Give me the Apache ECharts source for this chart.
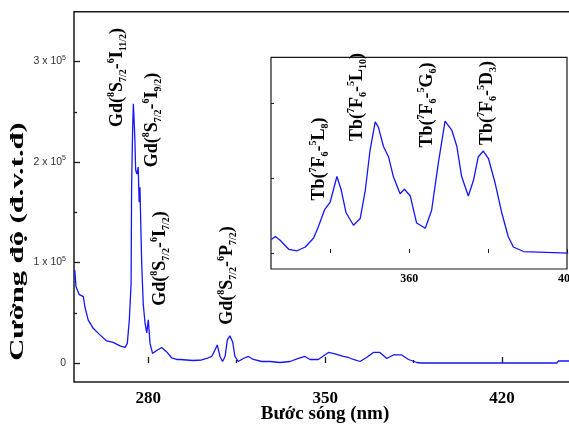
<!DOCTYPE html>
<html>
<head>
<meta charset="utf-8">
<script src="https://cdn.jsdelivr.net/npm/echarts@6/dist/echarts.min.js"></script>
<style>html,body{margin:0;padding:0;background:#fff;}#c{width:569px;height:432px;}</style>
</head>
<body>
<div id="c"></div>
<script>
// ---- data (main spectrum, intensity in units of 10^5) ----
const mainWavelength = [250.9,251.4,252.7,254.3,254.9,256.2,258.2,260.9,263.5,266.1,268.8,270.8,271.7,272.5,273.2,273.4,273.8,274.1,274.5,274.7,275.0,275.5,276.0,276.4,276.7,277.0,277.4,278.0,278.7,279.4,280.0,280.7,281.7,283.0,285.3,287.3,289.3,291.2,292.5,297.8,301.1,303.1,305.1,306.4,307.3,308.4,309.4,310.4,311.3,312.3,313.4,314.3,315.6,317.6,319.6,321.6,324.9,328.2,332.1,336.1,339.4,342.0,344.0,347.3,349.3,351.3,353.9,357.2,359.2,361.2,363.8,366.4,369.1,371.7,374.4,377.0,380.3,383.0,386.3,388.0,441.7,442.4,448.0];
const mainIntensity = [0.925,0.76,0.68,0.66,0.56,0.43,0.345,0.28,0.22,0.205,0.17,0.155,0.195,0.43,0.79,1.75,2.32,2.58,2.35,2.22,1.92,1.88,1.95,1.60,1.75,1.42,0.99,0.59,0.40,0.30,0.43,0.195,0.095,0.12,0.155,0.11,0.05,0.035,0.035,0.025,0.03,0.045,0.065,0.13,0.18,0.065,0.015,0.065,0.23,0.27,0.21,0.065,0.015,0.045,0.065,0.035,0.015,0.015,0.005,0.015,0.045,0.065,0.035,0.035,0.07,0.105,0.09,0.065,0.055,0.035,0.015,0.055,0.105,0.105,0.045,0.08,0.08,0.035,0.005,0.0,0.0,0.02,0.02];
// ---- data (inset, arbitrary units) ----
const insetWavelength = [325.1,326.1,327.3,329.5,331.6,333.7,335.8,337.0,338.6,340.0,341.7,342.8,344.0,345.9,347.6,348.9,350.1,351.4,352.2,353.5,354.8,356.0,357.7,358.8,360.3,361.9,364.1,365.7,367.4,369.1,370.8,372.1,373.3,375.0,376.3,377.5,378.8,380.1,381.8,383.5,385.1,386.4,389.0,389.5,400.3];
const insetIntensity = [0.18,0.22,0.17,0.05,0.03,0.08,0.20,0.35,0.58,0.68,1.02,0.84,0.54,0.37,0.46,0.84,1.37,1.75,1.68,1.42,1.28,1.02,0.79,0.85,0.76,0.40,0.33,0.57,1.20,1.76,1.64,1.42,1.02,0.76,0.97,1.28,1.36,1.26,0.93,0.53,0.22,0.08,0.02,0.0,0.0];
// ---- ticks ----
const mainXTicks = [280, 350, 420];
const mainXMinorTicks = [315, 385];
const mainYTicks = [0, 1, 2, 3];
const mainYMinorTicks = [0.5, 1.5, 2.5];
const insetXTicks = [340, 360, 380, 400];
const insetXLabels = [360, 400];
const insetYTicks = [0, 1, 2];
// ---- texts ----
const xTitle = 'Bước sóng (nm)';
const yTitle = 'Cường độ (đ.v.t.đ)';
const gdLabels = [
  ['Gd','8','S','7/2','6','I','11/2'],
  ['Gd','8','S','7/2','6','I','9/2'],
  ['Gd','8','S','7/2','6','I','7/2'],
  ['Gd','8','S','7/2','6','P','7/2']
];
const tbLabels = [
  ['Tb','7','F','6','5','L','8'],
  ['Tb','7','F','6','5','L','10'],
  ['Tb','7','F','6','5','G','6'],
  ['Tb','7','F','6','5','D','3']
];

const SERIF = '"Liberation Serif","Times New Roman",serif';
const SANS = '"Liberation Sans",Arial,sans-serif';
const AX = '#1a1a1a';

function richLabel(p) {
  return `{b|${p[0]}(}{sup|${p[1]}}{b|${p[2]}}{sub|${p[3]}}{b|-}{sup|${p[4]}}{b|${p[5]}}{sub|${p[6]}}{b|)}`;
}
const labelRich = {
  b: {fontFamily: SERIF, fontWeight: 'bold', fontSize: 18, lineHeight: 22, fill: '#000'},
  sup: {fontFamily: SERIF, fontWeight: 'bold', fontSize: 10, lineHeight: 10, verticalAlign: 'top', fill: '#000'},
  sub: {fontFamily: SERIF, fontWeight: 'bold', fontSize: 10, lineHeight: 10, verticalAlign: 'bottom', fill: '#000'}
};
function vText(text, cx, cy, sx, rich, font) {
  return {
    type: 'text', x: cx, y: cy, rotation: Math.PI / 2, scaleX: sx, z: 100,
    style: {text: text, rich: rich, font: font, fill: '#000', align: 'center', verticalAlign: 'middle'}
  };
}
const gdPos = [[117.5, 77.5], [152.5, 120], [160, 258.5], [227.5, 275.5]];
const tbPos = [[319, 159], [357, 97], [427, 105], [487, 103]];
const graphics = [];
gdLabels.forEach((p, i) => graphics.push(vText(richLabel(p), gdPos[i][0], gdPos[i][1], 1.0, labelRich)));
tbLabels.forEach((p, i) => graphics.push(vText(richLabel(p), tbPos[i][0], tbPos[i][1], 1.0, labelRich)));
graphics.push(vText(yTitle, 18.5, 241.5, 1.7, null, 'bold 18px ' + SERIF));
graphics.push({type: 'text', x: 325, y: 414, z: 100,
  style: {text: xTitle, font: 'bold 19px ' + SERIF, fill: '#000', align: 'center', verticalAlign: 'middle'}});

const chart = echarts.init(document.getElementById('c'), null, {renderer: 'canvas'});
const tickLine = {show: true, inside: true, lineStyle: {color: AX, width: 1.3}};
chart.setOption({
  animation: false,
  backgroundColor: '#fff',
  grid: [
    {left: 74, top: 11.7, width: 500, height: 370.3, show: true, borderColor: AX, borderWidth: 1.5,
     backgroundColor: 'transparent', outerBoundsMode: 'none', containLabel: false},
    {left: 271, top: 57.3, width: 296, height: 211.7, show: true, borderColor: AX, borderWidth: 1.2,
     backgroundColor: '#fff', outerBoundsMode: 'none', containLabel: false}
  ],
  xAxis: [
    {type: 'value', gridIndex: 0, position: 'bottom', min: 250.6, max: 448.5, axisLine: {show: false}, splitLine: {show: false},
     axisTick: Object.assign({}, tickLine, {length: 6, customValues: mainXTicks}),
     axisLabel: {customValues: mainXTicks, margin: 8, color: '#000', fontFamily: SERIF, fontWeight: 'bold', fontSize: 17}},
    {type: 'value', gridIndex: 0, position: 'bottom', min: 250.6, max: 448.5, axisLine: {show: false}, splitLine: {show: false},
     axisTick: Object.assign({}, tickLine, {length: 3, customValues: mainXMinorTicks}),
     axisLabel: {show: false}},
    {type: 'value', gridIndex: 1, position: 'bottom', min: 325, max: 400, axisLine: {show: false}, splitLine: {show: false},
     axisTick: Object.assign({}, tickLine, {length: 4, customValues: insetXTicks, lineStyle: {color: AX, width: 1}}),
     axisLabel: {customValues: insetXLabels, margin: 4, color: '#000', fontFamily: SERIF, fontWeight: 'bold', fontSize: 12}}
  ],
  yAxis: [
    {type: 'value', gridIndex: 0, position: 'left', min: -0.189, max: 3.496, axisLine: {show: false}, splitLine: {show: false},
     axisTick: Object.assign({}, tickLine, {length: 6, customValues: mainYTicks}),
     axisLabel: {customValues: mainYTicks, margin: 8, color: '#333',
       formatter: v => v === 0 ? '{n|0}' : `{n|${v} x 10}{s|5}`,
       rich: {n: {fontFamily: SANS, fontSize: 10.5, lineHeight: 14, color: '#333'},
              s: {fontFamily: SANS, fontSize: 7, lineHeight: 8, verticalAlign: 'top', color: '#333'}}}},
    {type: 'value', gridIndex: 0, position: 'left', min: -0.189, max: 3.496, axisLine: {show: false}, splitLine: {show: false},
     axisTick: Object.assign({}, tickLine, {length: 3, customValues: mainYMinorTicks}),
     axisLabel: {show: false}},
    {type: 'value', gridIndex: 1, position: 'left', min: -0.213, max: 2.61, axisLine: {show: false}, splitLine: {show: false},
     axisTick: Object.assign({}, tickLine, {length: 3, customValues: insetYTicks, lineStyle: {color: AX, width: 1}}),
     axisLabel: {show: false}}
  ],
  series: [
    {type: 'line', xAxisIndex: 0, yAxisIndex: 0, showSymbol: false, symbol: 'none',
     lineStyle: {color: '#1515ff', width: 1.3}, data: mainWavelength.map((x, i) => [x, mainIntensity[i]])},
    {type: 'line', xAxisIndex: 2, yAxisIndex: 2, showSymbol: false, symbol: 'none', z: 5,
     lineStyle: {color: '#1515ff', width: 1.3}, data: insetWavelength.map((x, i) => [x, insetIntensity[i]])}
  ],
  graphic: graphics
});
</script>
</body>
</html>
